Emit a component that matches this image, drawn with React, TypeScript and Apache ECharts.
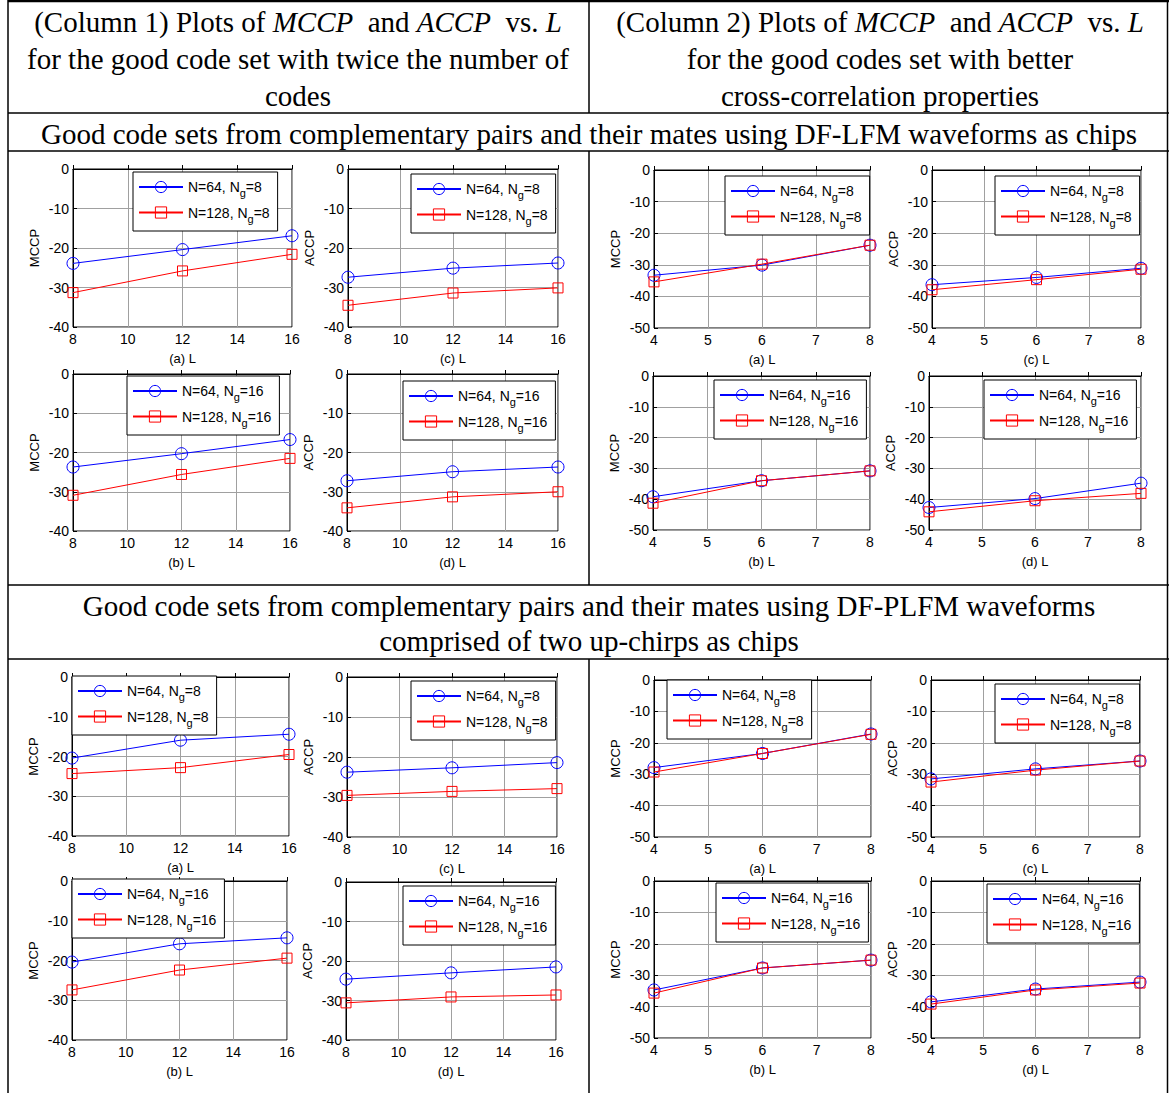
import React, { useEffect, useRef } from "react";
import * as echarts from "echarts";

// x values (L)
const L_COL1 = [8, 12, 16];
const L_COL2 = [4, 6, 8];

// DF-LFM, column 1
const lfm1a_n64 = [-23.9, -20.4, -16.9];
const lfm1a_n128 = [-31.3, -25.8, -21.6];
const lfm1c_n64 = [-27.4, -25.1, -23.8];
const lfm1c_n128 = [-34.5, -31.4, -30.1];
const lfm1b_n64 = [-23.7, -20.3, -16.7];
const lfm1b_n128 = [-30.9, -25.6, -21.5];
const lfm1d_n64 = [-27.2, -24.9, -23.7];
const lfm1d_n128 = [-34.1, -31.3, -30.0];
// DF-LFM, column 2
const lfm2a_n64 = [-33.3, -30.1, -23.8];
const lfm2a_n128 = [-35.4, -29.8, -23.8];
const lfm2c_n64 = [-36.3, -34.0, -31.1];
const lfm2c_n128 = [-37.9, -34.7, -31.4];
const lfm2b_n64 = [-39.2, -34.0, -30.8];
const lfm2b_n128 = [-41.3, -34.0, -30.8];
const lfm2d_n64 = [-42.7, -39.8, -34.8];
const lfm2d_n128 = [-44.1, -40.5, -38.1];
// DF-PLFM, column 1
const plfm1a_n64 = [-20.4, -15.9, -14.4];
const plfm1a_n128 = [-24.3, -22.8, -19.5];
const plfm1c_n64 = [-23.8, -22.7, -21.4];
const plfm1c_n128 = [-29.6, -28.6, -27.9];
const plfm1b_n64 = [-20.4, -15.8, -14.3];
const plfm1b_n128 = [-27.4, -22.4, -19.4];
const plfm1d_n64 = [-24.6, -23.0, -21.5];
const plfm1d_n128 = [-30.6, -29.1, -28.6];
// DF-PLFM, column 2
const plfm2a_n64 = [-27.9, -23.4, -17.2];
const plfm2a_n128 = [-29.3, -23.4, -17.3];
const plfm2c_n64 = [-31.5, -28.3, -25.8];
const plfm2c_n128 = [-32.5, -28.7, -25.8];
const plfm2b_n64 = [-34.7, -27.7, -25.2];
const plfm2b_n128 = [-35.7, -27.7, -25.2];
const plfm2d_n64 = [-38.5, -34.4, -32.2];
const plfm2d_n128 = [-39.2, -34.7, -32.5];

// Header texts
const HEADER_COL1 = [
  "(Column 1) Plots of {i|MCCP}  and {i|ACCP}  vs. {i|L}",
  "for the good code set with twice the number of",
  "codes",
];
const HEADER_COL2 = [
  "(Column 2) Plots of {i|MCCP}  and {i|ACCP}  vs. {i|L}",
  "for the good codes set with better",
  "cross-correlation properties",
];
const SECTION_LFM = ["Good code sets from complementary pairs and their mates using DF-LFM waveforms as chips"];
const SECTION_PLFM = [
  "Good code sets from complementary pairs and their mates using DF-PLFM waveforms",
  "comprised of two up-chirps as chips",
];

type Panel = {
  grid: [number, number, number, number];
  col: 1 | 2;
  yName: string;
  xName: string;
  ng: number;
  n64: number[];
  n128: number[];
  legend: [number, number];
};

const PANELS: Panel[] = [
  // DF-LFM
  { grid: [73, 169, 219, 158], col: 1, yName: "MCCP", xName: "(a) L", ng: 8, n64: lfm1a_n64, n128: lfm1a_n128, legend: [133, 172] },
  { grid: [348, 169, 210, 158], col: 1, yName: "ACCP", xName: "(c) L", ng: 8, n64: lfm1c_n64, n128: lfm1c_n128, legend: [411, 174] },
  { grid: [654, 170, 216, 158], col: 2, yName: "MCCP", xName: "(a) L", ng: 8, n64: lfm2a_n64, n128: lfm2a_n128, legend: [725, 176] },
  { grid: [932, 170, 209, 158], col: 2, yName: "ACCP", xName: "(c) L", ng: 8, n64: lfm2c_n64, n128: lfm2c_n128, legend: [995, 176] },
  { grid: [73, 374, 217, 157], col: 1, yName: "MCCP", xName: "(b) L", ng: 16, n64: lfm1b_n64, n128: lfm1b_n128, legend: [127, 376] },
  { grid: [347, 374, 211, 157], col: 1, yName: "ACCP", xName: "(d) L", ng: 16, n64: lfm1d_n64, n128: lfm1d_n128, legend: [403, 381] },
  { grid: [653, 376, 217, 154], col: 2, yName: "MCCP", xName: "(b) L", ng: 16, n64: lfm2b_n64, n128: lfm2b_n128, legend: [714, 380] },
  { grid: [929, 376, 212, 154], col: 2, yName: "ACCP", xName: "(d) L", ng: 16, n64: lfm2d_n64, n128: lfm2d_n128, legend: [984, 380] },
  // DF-PLFM
  { grid: [72, 677, 217, 159], col: 1, yName: "MCCP", xName: "(a) L", ng: 8, n64: plfm1a_n64, n128: plfm1a_n128, legend: [72, 676] },
  { grid: [347, 677, 210, 160], col: 1, yName: "ACCP", xName: "(c) L", ng: 8, n64: plfm1c_n64, n128: plfm1c_n128, legend: [411, 681] },
  { grid: [654, 680, 217, 157], col: 2, yName: "MCCP", xName: "(a) L", ng: 8, n64: plfm2a_n64, n128: plfm2a_n128, legend: [667, 680] },
  { grid: [931, 680, 209, 157], col: 2, yName: "ACCP", xName: "(c) L", ng: 8, n64: plfm2c_n64, n128: plfm2c_n128, legend: [995, 684] },
  { grid: [72, 881, 215, 159], col: 1, yName: "MCCP", xName: "(b) L", ng: 16, n64: plfm1b_n64, n128: plfm1b_n128, legend: [72, 879] },
  { grid: [346, 882, 210, 158], col: 1, yName: "ACCP", xName: "(d) L", ng: 16, n64: plfm1d_n64, n128: plfm1d_n128, legend: [403, 886] },
  { grid: [654, 881, 217, 157], col: 2, yName: "MCCP", xName: "(b) L", ng: 16, n64: plfm2b_n64, n128: plfm2b_n128, legend: [716, 883] },
  { grid: [931, 881, 209, 157], col: 2, yName: "ACCP", xName: "(d) L", ng: 16, n64: plfm2d_n64, n128: plfm2d_n128, legend: [987, 884] },
];

const SANS = "Liberation Sans";
const SERIF = "Liberation Serif";
const BLUE = "#0000ff";
const RED = "#ff0000";

function buildOption() {
  const grid: any[] = [];
  const xAxis: any[] = [];
  const yAxis: any[] = [];
  const series: any[] = [];
  const legend: any[] = [];

  PANELS.forEach((p, i) => {
    const xs = p.col === 1 ? L_COL1 : L_COL2;
    grid.push({
      left: p.grid[0],
      top: p.grid[1],
      width: p.grid[2],
      height: p.grid[3],
      show: true,
      borderColor: "#000",
      borderWidth: 1,
      backgroundColor: "#fff",
    });
    xAxis.push({
      type: "value",
      gridIndex: i,
      min: p.col === 1 ? 8 : 4,
      max: p.col === 1 ? 16 : 8,
      interval: p.col === 1 ? 2 : 1,
      name: p.xName,
      nameLocation: "middle",
      nameGap: 25,
      nameTextStyle: { fontFamily: SANS, fontSize: 13, color: "#000" },
      axisLine: { show: true, lineStyle: { color: "#000", width: 1 } },
      axisTick: { show: true, inside: true, length: 4, lineStyle: { color: "#000" } },
      axisLabel: { fontFamily: SANS, fontSize: 14, color: "#000", margin: 5 },
      splitLine: { show: true, lineStyle: { color: "#a0a0a0", width: 1 } },
    });
    yAxis.push({
      type: "value",
      gridIndex: i,
      min: p.col === 1 ? -40 : -50,
      max: 0,
      interval: 10,
      name: p.yName,
      nameLocation: "middle",
      nameGap: 32,
      nameTextStyle: { fontFamily: SANS, fontSize: 13, color: "#000" },
      axisLine: { show: true, lineStyle: { color: "#000", width: 1 } },
      axisTick: { show: true, inside: true, length: 4, lineStyle: { color: "#000" } },
      axisLabel: { fontFamily: SANS, fontSize: 14, color: "#000", margin: 4 },
      splitLine: { show: true, lineStyle: { color: "#a0a0a0", width: 1 } },
    });
    const name64 = `N=64, N_g=${p.ng}`;
    const name128 = `N=128, N_g=${p.ng}`;
    series.push({
      type: "line",
      name: name64,
      xAxisIndex: i,
      yAxisIndex: i,
      data: xs.map((x, j) => [x, p.n64[j]]),
      symbol: "circle",
      symbolSize: 12,
      lineStyle: { color: BLUE, width: 1 },
      itemStyle: { color: "rgba(0,0,0,0)", borderColor: BLUE, borderWidth: 1 },
      emphasis: { disabled: true },
      z: 3,
    });
    series.push({
      type: "line",
      name: name128,
      xAxisIndex: i,
      yAxisIndex: i,
      data: xs.map((x, j) => [x, p.n128[j]]),
      symbol: "rect",
      symbolSize: 10,
      lineStyle: { color: RED, width: 1 },
      itemStyle: { color: "rgba(0,0,0,0)", borderColor: RED, borderWidth: 1 },
      emphasis: { disabled: true },
      z: 4,
    });
    legend.push({
      show: true,
      orient: "vertical",
      left: p.legend[0],
      top: p.legend[1],
      data: [name64, name128],
      selectedMode: false,
      backgroundColor: "#fff",
      borderColor: "#000",
      borderWidth: 1,
      borderRadius: 0,
      padding: [8, 8, 7, 5],
      itemGap: 7,
      itemWidth: 44,
      itemHeight: 14,
      itemStyle: { borderWidth: 1 },
      z: 10,
      formatter: (name: string) => {
        const parts = name.split("_g");
        return `{t|${parts[0]}}{s|g}{t|${parts[1]}}`;
      },
      textStyle: {
        fontFamily: SANS,
        fontSize: 14,
        color: "#000",
        rich: {
          t: { fontFamily: SANS, fontSize: 14, color: "#000" },
          s: { fontFamily: SANS, fontSize: 11, color: "#000", padding: [12, 0, 0, 0] },
        },
      },
    });
  });

  const richHeader = {
    i: { fontFamily: SERIF, fontStyle: "italic", fontSize: 29, fill: "#000" },
  };
  const graphic: any[] = [];
  const addText = (lines: string[], cx: number, y0: number, dy: number) => {
    lines.forEach((t, k) => {
      graphic.push({
        type: "text",
        x: cx,
        y: y0 + k * dy,
        silent: true,
        style: {
          text: t,
          fontFamily: SERIF,
          fontSize: 29,
          fill: "#000",
          align: "center",
          verticalAlign: "middle",
          rich: richHeader,
        },
      });
    });
  };
  addText(HEADER_COL1, 298, 22, 37);
  addText(HEADER_COL2, 880, 22, 37);
  addText(SECTION_LFM, 589, 134, 35);
  addText(SECTION_PLFM, 589, 606, 35);

  const line = (x1: number, y1: number, x2: number, y2: number, w = 1.5) =>
    graphic.push({
      type: "line",
      silent: true,
      shape: { x1, y1, x2, y2 },
      style: { stroke: "#000", lineWidth: w },
      z: 20,
    });
  line(8, 1, 1169, 1, 2.5);
  line(8, 0, 8, 1093);
  line(1167.5, 0, 1167.5, 1093);
  line(8, 113, 1169, 113);
  line(8, 151, 1169, 151);
  line(8, 585, 1169, 585);
  line(8, 659, 1169, 659);
  line(589, 0, 589, 113);
  line(589, 151, 589, 585);
  line(589, 659, 589, 1093);

  return {
    animation: false,
    backgroundColor: "#fff",
    grid,
    xAxis,
    yAxis,
    series,
    legend,
    graphic,
  };
}

export default function App() {
  const ref = useRef<HTMLDivElement>(null);
  useEffect(() => {
    if (!ref.current) return;
    const chart = echarts.init(ref.current, undefined, { renderer: "svg" });
    chart.setOption(buildOption() as any);
    return () => chart.dispose();
  }, []);
  return (
    <div
      ref={ref}
      style={{ position: "absolute", left: 0, top: 0, width: 1169, height: 1093, background: "#fff" }}
    />
  );
}
